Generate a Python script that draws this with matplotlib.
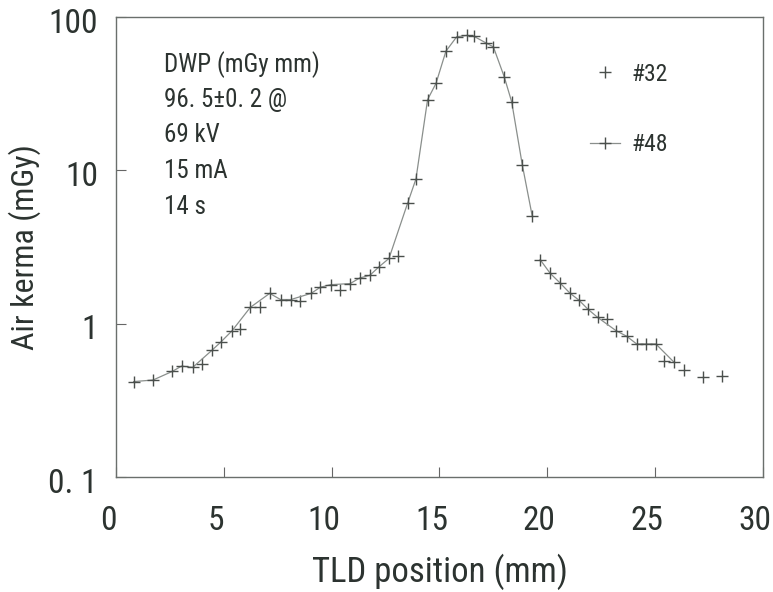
import numpy as np
import matplotlib
matplotlib.use('Agg')
import matplotlib.pyplot as plt
import matplotlib.transforms as mtransforms

plt.rcParams['font.family'] = ['Liberation Sans Narrow', 'Roboto Condensed', 'DejaVu Sans']
plt.rcParams['font.stretch'] = 'condensed'

##########DATA##########
# line series (#48); nan leaves the gap after the peak
x48 = [0.82, 1.72, 2.62, 3.04, 3.56, 4.44, 4.86, 5.38, 6.23, 7.13, 7.63, 8.11,
       9.05, 9.47, 9.95, 10.86, 11.3, 11.77, 12.19, 12.66, 13.52, 13.91, 14.45,
       14.84, 15.3, 15.8, 16.27, 16.6, 17.15, 17.5, 18.0, 18.35, 18.84, 19.3,
       19.5, 19.67, 20.14, 20.57, 21.04, 21.46, 21.9, 22.34, 23.2, 23.68, 24.14,
       24.57, 25.03, 25.86]
y48 = [0.42, 0.43, 0.49, 0.53, 0.52, 0.67, 0.76, 0.90, 1.28, 1.58, 1.44, 1.44,
       1.58, 1.73, 1.80, 1.83, 1.99, 2.07, 2.35, 2.67, 6.1, 8.8, 29.0,
       37.0, 60.0, 74.5, 76.0, 75.0, 68.0, 64.0, 41.0, 28.0, 10.9, 5.06,
       np.nan, 2.62, 2.13, 1.86, 1.59, 1.43, 1.24, 1.10, 0.90, 0.83, 0.74,
       0.74, 0.74, 0.565]

# marker-only series (#32)
x32 = [3.98, 5.77, 6.67, 8.55, 10.37, 13.06, 22.78, 25.42, 26.33, 27.21, 28.1]
y32 = [0.545, 0.92, 1.28, 1.40, 1.67, 2.76, 1.08, 0.57, 0.50, 0.45, 0.455]

xticks = [0, 5, 10, 15, 20, 25, 30]
yticks = [0.1, 1, 10, 100]
ytick_labels = ['0. 1', '1', '10', '100']

info = ['DWP (mGy mm)', '96. 5\u00b10. 2 @', '69 kV', '15 mA', '14 s']

##########PLOT##########
ink = '#2c3330'
fig = plt.figure(figsize=(7.73, 5.92), dpi=100)
ax = fig.add_axes([0.150, 0.194, 0.837, 0.777])

ax.plot(x32, y32, ls='none', marker='+', ms=8, mew=1.0, color='#4a4f4c', label='#32')
ax.plot(x48, y48, ls='-', lw=0.9, color='#8a8f8c', marker='+', ms=8, mew=1.0,
        mec='#4a4f4c', label='#48')

ax.set_yscale('log')
ax.set_xlim(0, 30)
ax.set_ylim(0.1, 100)
ax.set_xticks(xticks)
ax.set_xticklabels([str(t) for t in xticks])
ax.set_yticks(yticks)
ax.set_yticklabels(ytick_labels)
ax.yaxis.set_minor_locator(matplotlib.ticker.NullLocator())

ax.tick_params(direction='in', length=7, width=0.8, color='#666',
               labelsize=24, labelcolor=ink)
ax.tick_params(axis='x', pad=20)
ax.tick_params(axis='y', pad=13)
for s in ax.spines.values():
    s.set_color('#6a6f6c')
    s.set_linewidth(1.0)

# tick labels sit a little left of / below their ticks
xshift = mtransforms.ScaledTranslation(-8 / 100, 0, fig.dpi_scale_trans)
for lbl in ax.get_xticklabels():
    lbl.set_transform(lbl.get_transform() + xshift)
yshift = mtransforms.ScaledTranslation(0, -3 / 100, fig.dpi_scale_trans)
for lbl in ax.get_yticklabels():
    lbl.set_transform(lbl.get_transform() + yshift)

ax.set_xlabel('TLD position (mm)', fontsize=25, color=ink, labelpad=12)
ax.set_ylabel('Air kerma (mGy)', fontsize=23, color=ink, labelpad=5)

for i, line in enumerate(info):
    ax.text(0.075, 0.898 - i * 0.0775, line, transform=ax.transAxes,
            fontsize=18, color=ink, va='center', ha='left')

ax.legend(loc='upper left', bbox_to_anchor=(0.733, 0.901), frameon=False,
          fontsize=17, labelspacing=2.0, handlelength=1.27, handletextpad=0.5,
          borderpad=0, borderaxespad=0, labelcolor=ink)

fig.savefig('out.png', dpi=100)
